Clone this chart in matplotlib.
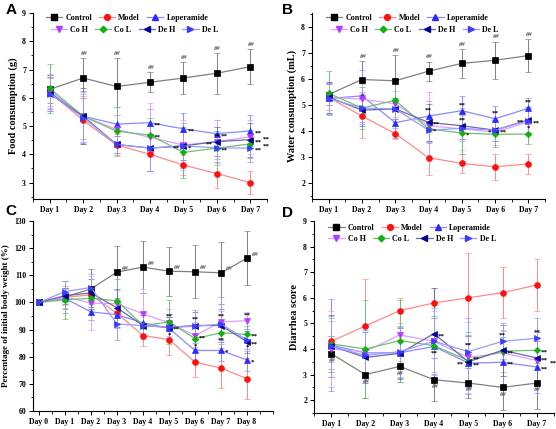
import numpy as np
import matplotlib
matplotlib.use('Agg')
import matplotlib.pyplot as plt
from matplotlib.ticker import MultipleLocator
from matplotlib.lines import Line2D

plt.rcParams['font.family'] = ['Liberation Serif', 'DejaVu Serif']
plt.rcParams['font.weight'] = 'bold'

groups = ['Control', 'Model', 'Loperamide', 'Co H', 'Co L', 'De H', 'De L']

# Panel A - food consumption (g), Day 1..7
food_days = ['Day 1', 'Day 2', 'Day 3', 'Day 4', 'Day 5', 'Day 6', 'Day 7']
food_mean = {
    'Control':    [6.30, 6.70, 6.40, 6.55, 6.70, 6.87, 7.10],
    'Model':      [6.20, 5.20, 4.33, 4.00, 3.62, 3.32, 3.00],
    'Loperamide': [6.20, 5.35, 5.07, 5.12, 4.90, 4.73, 4.83],
    'Co H':       [6.25, 5.35, 4.88, 4.60, 4.33, 4.45, 4.62],
    'Co L':       [6.33, 5.35, 4.82, 4.68, 4.07, 4.22, 4.37],
    'De H':       [6.15, 5.35, 4.35, 4.22, 4.30, 4.45, 4.52],
    'De L':       [6.15, 5.30, 4.35, 4.22, 4.30, 4.23, 4.22],
}
food_err = {
    'Control':    [0.50, 0.70, 1.00, 0.35, 0.58, 0.72, 0.62],
    'Model':      [0.50, 0.85, 0.40, 0.60, 0.35, 0.50, 0.40],
    'Loperamide': [0.60, 0.90, 0.60, 0.50, 0.55, 0.50, 0.55],
    'Co H':       [0.60, 0.90, 0.50, 1.20, 0.90, 0.75, 0.60],
    'Co L':       [0.85, 0.80, 0.85, 0.60, 0.90, 0.60, 0.50],
    'De H':       [0.60, 1.00, 0.30, 0.80, 0.50, 0.50, 0.60],
    'De L':       [0.60, 0.90, 0.30, 0.80, 0.80, 0.50, 0.50],
}

# Panel B - water consumption (mL), Day 1..7
water_days = food_days
water_mean = {
    'Control':    [5.40, 5.98, 5.93, 6.30, 6.60, 6.72, 6.90],
    'Model':      [5.30, 4.57, 3.90, 2.97, 2.75, 2.62, 2.73],
    'Loperamide': [5.25, 5.35, 4.32, 4.57, 4.78, 4.47, 4.87],
    'Co H':       [5.30, 5.22, 5.05, 4.20, 4.08, 3.95, 4.35],
    'Co L':       [5.45, 4.88, 5.18, 4.08, 3.92, 3.87, 3.88],
    'De H':       [5.30, 4.80, 4.85, 4.33, 4.20, 4.03, 4.43],
    'De L':       [5.25, 4.88, 4.85, 4.03, 4.10, 4.03, 4.40],
}
water_err = {
    'Control':    [0.40, 0.70, 1.00, 0.37, 0.57, 0.72, 0.65],
    'Model':      [0.50, 0.85, 0.20, 0.65, 0.35, 0.50, 0.40],
    'Loperamide': [0.60, 1.00, 0.60, 0.60, 0.55, 0.50, 0.40],
    'Co H':       [0.60, 0.60, 0.50, 1.30, 0.80, 0.50, 0.50],
    'Co L':       [0.85, 0.80, 0.85, 0.50, 0.80, 0.50, 0.40],
    'De H':       [0.60, 0.60, 0.40, 0.70, 0.50, 0.40, 0.50],
    'De L':       [0.60, 0.60, 0.40, 0.50, 0.50, 0.40, 0.50],
}

# Panel C - body weight (% of initial), Day 0..8
bw_days = ['Day 0', 'Day 1', 'Day 2', 'Day 3', 'Day 4', 'Day 5', 'Day 6', 'Day 7', 'Day 8']
bw_mean = {
    'Control':    [100, 102.0, 105.0, 111.2, 113.0, 111.5, 111.3, 110.9, 116.3],
    'Model':      [100, 102.0, 102.7, 96.0, 87.8, 86.3, 78.0, 75.8, 71.9],
    'Loperamide': [100, 101.5, 96.5, 95.5, 92.5, 90.5, 82.3, 82.3, 78.8],
    'Co H':       [100, 102.0, 99.8, 99.5, 95.8, 92.5, 87.8, 92.8, 93.3],
    'Co L':       [100, 101.0, 101.5, 100.6, 91.5, 92.8, 86.7, 88.8, 88.2],
    'De H':       [100, 102.5, 103.5, 98.0, 91.5, 90.8, 91.5, 91.5, 85.5],
    'De L':       [100, 104.0, 105.5, 92.0, 91.5, 90.8, 91.2, 92.0, 86.2],
}
bw_err = {
    'Control':    [0, 6.0, 7.5, 9.5, 9.5, 9.0, 9.8, 11.5, 10.0],
    'Model':      [0, 4.0, 3.0, 4.0, 4.0, 5.5, 5.5, 7.5, 7.5],
    'Loperamide': [0, 4.0, 3.0, 5.0, 4.0, 4.0, 4.0, 4.0, 4.0],
    'Co H':       [0, 3.0, 10.0, 5.0, 9.0, 5.0, 5.0, 4.0, 3.0],
    'Co L':       [0, 7.0, 4.0, 8.0, 4.0, 8.0, 5.0, 4.0, 3.0],
    'De H':       [0, 3.0, 5.0, 7.0, 4.0, 4.0, 5.0, 6.0, 4.0],
    'De L':       [0, 4.0, 5.0, 6.0, 5.0, 5.0, 6.0, 10.0, 4.0],
}

# Panel D - diarrhea score, Day 1..7
ds_days = food_days
ds_mean = {
    'Control':    [3.82, 3.00, 3.32, 2.80, 2.67, 2.50, 2.67],
    'Model':      [4.30, 4.90, 5.50, 5.80, 6.00, 6.20, 6.50],
    'Loperamide': [4.15, 3.85, 3.85, 4.10, 3.45, 3.48, 3.30],
    'Co H':       [4.00, 3.90, 4.55, 4.30, 3.67, 3.85, 3.55],
    'Co L':       [4.20, 4.00, 4.33, 4.13, 3.55, 3.92, 3.95],
    'De H':       [4.12, 3.67, 3.83, 4.60, 3.50, 3.95, 3.65],
    'De L':       [4.10, 3.75, 3.90, 4.30, 3.90, 4.30, 4.42],
}
ds_err = {
    'Control':    [0.70, 0.90, 0.60, 0.85, 0.60, 0.90, 1.00],
    'Model':      [0.80, 1.85, 0.50, 0.60, 1.75, 1.00, 1.00],
    'Loperamide': [1.80, 1.00, 1.00, 1.20, 1.20, 1.00, 1.00],
    'Co H':       [1.50, 1.00, 1.00, 1.20, 1.40, 0.90, 0.90],
    'Co L':       [1.00, 1.90, 1.60, 1.10, 1.00, 0.80, 0.50],
    'De H':       [1.20, 1.00, 1.00, 1.80, 1.00, 1.00, 1.00],
    'De L':       [1.20, 1.00, 1.00, 1.30, 1.30, 0.70, 0.80],
}

# significance marks: (group, day index, text, side)
food_sig = [('Loperamide', 3, '**', 'r'), ('Co L', 3, '**', 'r'),
            ('Loperamide', 4, '**', 'r'), ('De H', 4, '**', 'l'), ('De L', 4, '*', 'r'),
            ('Loperamide', 5, '**', 'r'), ('De H', 5, '**', 'l'), ('Co H', 5, '**', 'u'),
            ('De L', 5, '**', 'r'),
            ('Loperamide', 6, '**', 'r'), ('Co H', 6, '**', 'r2'), ('De H', 6, '**', 'r'),
            ('Co L', 6, '**', 'r2'), ('De L', 6, '**', 'r')]
water_sig = [('Loperamide', 3, '**', 'u'), ('De H', 3, '**', 'r'), ('Co L', 3, '*', 'r'),
             ('Loperamide', 4, '**', 'u'), ('De H', 4, '**', 'u'), ('Co L', 4, '*', 'r'),
             ('Loperamide', 5, '**', 'u'), ('De H', 5, '*', 'l'), ('De L', 5, '**', 'r'),
             ('Loperamide', 6, '**', 'u'), ('De H', 6, '**', 'l'), ('De L', 6, '**', 'r'),
             ('Co L', 6, '*', 'u')]
bw_sig = [('Co L', 5, '**', 'u'), ('De H', 5, '**', 'r'), ('De L', 5, '*', 'd'),
          ('De H', 6, '**', 'u'), ('Co H', 6, '**', 'r'), ('Co L', 6, '*', 'd'),
          ('Co H', 7, '**', 'u'), ('Co L', 7, '**', 'd'), ('Loperamide', 7, '*', 'r'),
          ('Co H', 8, '**', 'u'), ('Co L', 8, '**', 'r'), ('De H', 8, '**', 'r'),
          ('De L', 8, '*', 'd'), ('Loperamide', 8, '*', 'r')]
ds_sig = [('De H', 3, '**', 'r'), ('Co L', 3, '**', 'd'),
          ('Loperamide', 4, '**', 'r'), ('Co H', 4, '**', 'r'), ('De H', 4, '**', 'l'),
          ('De L', 4, '**', 'u'),
          ('De L', 5, '**', 'u'), ('Co L', 5, '**', 'r'), ('Loperamide', 5, '**', 'r'),
          ('De L', 6, '**', 'u'), ('Co L', 6, '**', 'r'), ('De H', 6, '**', 'r'),
          ('Co H', 6, '**', 'r2'), ('Loperamide', 6, '**', 'r')]

# styles
mcol = {'Control': '#000000', 'Model': '#ff1010', 'Loperamide': '#2a2aff',
        'Co H': '#b23cff', 'Co L': '#10b010', 'De H': '#000090', 'De L': '#3c3cff'}
lcol = {'Control': '#808080', 'Model': '#ff8a8a', 'Loperamide': '#8a8aff',
        'Co H': '#dda0ff', 'Co L': '#70c070', 'De H': '#6a6aa8', 'De L': '#9a9aff'}
mk = {'Control': 's', 'Model': 'o', 'Loperamide': '^', 'Co H': 'v',
      'Co L': 'D', 'De H': '<', 'De L': '>'}
msz = {'Control': 3.8, 'Model': 4.2, 'Loperamide': 4.2, 'Co H': 4.2,
       'Co L': 3.3, 'De H': 4.2, 'De L': 4.2}

fig = plt.figure(figsize=(5.56, 4.29), dpi=100)
W, H = 556.0, 429.0


def make_ax(l, t, r, b):
    return fig.add_axes([l / W, 1 - b / H, (r - l) / W, (b - t) / H])


def draw(ax, days, means, errs, x0):
    x = np.arange(len(days)) + x0
    for g in groups:
        ax.errorbar(x, means[g], yerr=errs[g], color=lcol[g], lw=0.9,
                    marker=mk[g], ms=msz[g], mfc=mcol[g], mec=mcol[g], mew=0.5,
                    ecolor=lcol[g], elinewidth=0.7, capsize=2, capthick=0.7,
                    zorder=3)
    ax.set_xticks(x)
    ax.set_xticklabels(days)
    return x


def style(ax, ylabel):
    for s in ['top', 'right']:
        ax.spines[s].set_visible(False)
    for s in ['left', 'bottom']:
        ax.spines[s].set_linewidth(0.8)
    ax.xaxis.set_minor_locator(MultipleLocator(0.5))
    ax.tick_params(which='major', direction='out', length=3, width=0.7,
                   labelsize=5.6, pad=2)
    ax.tick_params(which='minor', direction='out', length=1.8, width=0.6)
    ax.set_ylabel(ylabel, fontsize=7.5, fontweight='bold', labelpad=3)
    for lab in ax.get_xticklabels() + ax.get_yticklabels():
        lab.set_fontweight('bold')


def sig(ax, x, means, marks):
    for g, i, txt, side in marks:
        xv, yv = x[i], means[g][i]
        if side == 'r':
            off, ha, va = (3, -1.5), 'left', 'center'
        elif side == 'r2':
            off, ha, va = (9, -1.5), 'left', 'center'
        elif side == 'l':
            off, ha, va = (-3, -1.5), 'right', 'center'
        elif side == 'u':
            off, ha, va = (0, 2.5), 'center', 'bottom'
        else:
            off, ha, va = (0, -3.5), 'center', 'top'
        ax.annotate(txt, (xv, yv), xytext=off, textcoords='offset points',
                    fontsize=5, ha=ha, va=va, zorder=5, annotation_clip=False)


def hashes(ax, x, vals, skip_first, where):
    for i, (xv, yv) in enumerate(zip(x, vals)):
        if skip_first and i == 0:
            continue
        if where == 'above':
            off, ha, va = (0, 1.5), 'center', 'bottom'
        elif where == 'right':
            off, ha, va = (3, 1), 'left', 'bottom'
        else:
            off, ha, va = (0, -3), 'center', 'top'
        ax.annotate('##', (xv, yv), xytext=off, textcoords='offset points',
                    fontsize=4.8, style='italic', color='#555555', ha=ha, va=va)


def legend(ax, x1, y1, x2, y2):
    hs = {g: Line2D([], [], color=lcol[g], lw=0.9, marker=mk[g], ms=msz[g],
                    mfc=mcol[g], mec=mcol[g]) for g in groups}
    kw = dict(frameon=False, handlelength=2.0, handletextpad=0.4,
              columnspacing=0.9, borderpad=0, borderaxespad=0, loc='center left',
              prop={'weight': 'bold', 'size': 5.8})
    l1 = ax.legend([hs[g] for g in groups[:3]], groups[:3], ncol=3,
                   bbox_to_anchor=(x1, y1), **kw)
    ax.add_artist(l1)
    ax.legend([hs[g] for g in groups[3:]], groups[3:], ncol=4,
              bbox_to_anchor=(x2, y2), **kw)


# A
axA = make_ax(33, 13, 267, 199)
xA = draw(axA, food_days, food_mean, food_err, 1)
axA.set_xlim(0.5, 7.5)
axA.set_ylim(2.42, 9)
axA.yaxis.set_major_locator(MultipleLocator(1))
axA.yaxis.set_minor_locator(MultipleLocator(0.5))
style(axA, 'Food consumption (g)')
hashes(axA, xA, np.array(food_mean['Control']) + np.array(food_err['Control']), True, 'above')
sig(axA, xA, food_mean, food_sig)
legend(axA, 0.055, 0.975, 0.075, 0.91)

# B
axB = make_ax(312, 13, 545, 199)
xB = draw(axB, water_days, water_mean, water_err, 1)
axB.set_xlim(0.5, 7.5)
axB.set_ylim(1.38, 8.54)
axB.yaxis.set_major_locator(MultipleLocator(1))
axB.yaxis.set_minor_locator(MultipleLocator(0.5))
style(axB, 'Water consumption (mL)')
hashes(axB, xB, np.array(water_mean['Control']) + np.array(water_err['Control']), True, 'above')
sig(axB, xB, water_mean, water_sig)
legend(axB, 0.06, 0.975, 0.08, 0.91)

# C
axC = make_ax(33, 221, 273, 411)
xC = draw(axC, bw_days, bw_mean, bw_err, 0)
axC.set_xlim(-0.23, 9)
axC.set_ylim(60, 130)
axC.yaxis.set_major_locator(MultipleLocator(10))
axC.yaxis.set_minor_locator(MultipleLocator(5))
style(axC, 'Percentage of initial body weight (%)')
axC.yaxis.label.set_size(6.5)
hashes(axC, xC[3:], bw_mean['Control'][3:], False, 'right')
sig(axC, xC, bw_mean, bw_sig)

# D
axD = make_ax(314, 221, 554, 413)
xD = draw(axD, ds_days, ds_mean, ds_err, 1)
axD.set_xlim(0.5, 7.5)
axD.set_ylim(1.5, 9)
axD.yaxis.set_major_locator(MultipleLocator(1))
axD.yaxis.set_minor_locator(MultipleLocator(0.5))
style(axD, 'Diarrhea score')
hashes(axD, xD, ds_mean['Control'], False, 'below')
sig(axD, xD, ds_mean, ds_sig)
legend(axD, 0.06, 0.965, 0.06, 0.905)

for lbl, px, py in [('A', 6, 3), ('B', 282, 3), ('C', 5, 204), ('D', 282, 206)]:
    fig.text(px / W, 1 - py / H, lbl, fontsize=11, fontweight='bold',
             family='Liberation Sans', ha='left', va='top')

fig.savefig('out.png', dpi=100)
